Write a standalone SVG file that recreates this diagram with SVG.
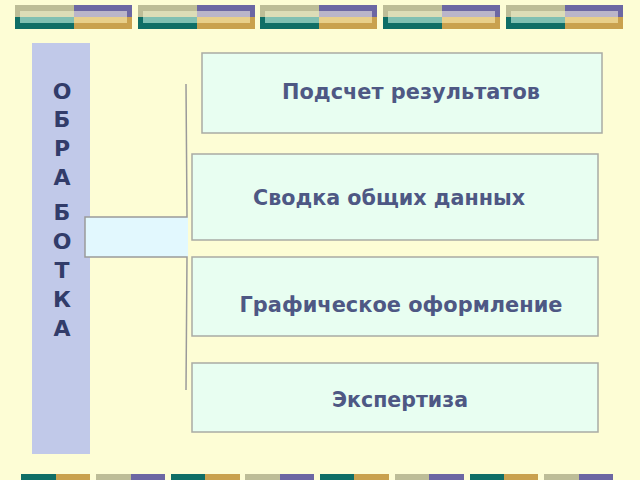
<svg xmlns="http://www.w3.org/2000/svg" width="640" height="480" viewBox="0 0 640 480">
<defs>
<style>
.bg{fill:#FDFDD5}
.ol{fill:#BDBD97}.tl{fill:#0F6E66}.pu{fill:#6C67A3}.go{fill:#C9A14E}
.olI{fill:#DCDDB7}.tlI{fill:#80C0B2}.puI{fill:#BAB5C9}.goI{fill:#E8CF8A}
.box{fill:#E8FEF1;stroke:#A9ABA4;stroke-width:1.5}
.lbl{font-family:"DejaVu Sans","Liberation Sans",sans-serif;font-weight:bold;font-size:22px;fill:#4E5884;text-anchor:middle}
.let{font-family:"DejaVu Sans","Liberation Sans",sans-serif;font-weight:bold;font-size:22px;fill:#323C6A;text-anchor:middle}
.conn{fill:none;stroke:#9A9A9A;stroke-width:1.5}
</style>
<g id="topbar">
<rect class="ol" x="0" y="0" width="59" height="12"/>
<rect class="tl" x="0" y="12" width="59" height="12"/>
<rect class="pu" x="59" y="0" width="58" height="12"/>
<rect class="go" x="59" y="12" width="58" height="12"/>
<rect class="olI" x="5" y="6" width="54" height="6"/>
<rect class="tlI" x="5" y="12" width="54" height="6"/>
<rect class="puI" x="59" y="6" width="53" height="6"/>
<rect class="goI" x="59" y="12" width="53" height="6"/>
</g>
</defs>
<rect class="bg" x="0" y="0" width="640" height="480"/>
<g id="top-decor">
<use href="#topbar" x="15" y="5"/>
<use href="#topbar" x="138" y="5"/>
<use href="#topbar" x="260" y="5"/>
<use href="#topbar" x="383" y="5"/>
<use href="#topbar" x="506" y="5"/>
</g>
<g id="bottom-decor">
<rect class="tl" x="21" y="474" width="35" height="8"/><rect class="go" x="56" y="474" width="34" height="8"/>
<rect class="ol" x="96" y="474" width="35" height="8"/><rect class="pu" x="131" y="474" width="34" height="8"/>
<rect class="tl" x="171" y="474" width="34" height="8"/><rect class="go" x="205" y="474" width="35" height="8"/>
<rect class="ol" x="245" y="474" width="35" height="8"/><rect class="pu" x="280" y="474" width="34" height="8"/>
<rect class="tl" x="320" y="474" width="34" height="8"/><rect class="go" x="354" y="474" width="35" height="8"/>
<rect class="ol" x="395" y="474" width="34" height="8"/><rect class="pu" x="429" y="474" width="35" height="8"/>
<rect class="tl" x="470" y="474" width="34" height="8"/><rect class="go" x="504" y="474" width="34" height="8"/>
<rect class="ol" x="544" y="474" width="35" height="8"/><rect class="pu" x="579" y="474" width="34" height="8"/>
</g>
<g id="obrabotka">
<rect x="32" y="43" width="58" height="411" fill="#C1C9E9"/>
<text class="let" x="62" y="99">О</text>
<text class="let" x="62" y="127">Б</text>
<text class="let" x="62" y="156">Р</text>
<text class="let" x="62" y="185">А</text>
<text class="let" x="62" y="220">Б</text>
<text class="let" x="62" y="249">О</text>
<text class="let" x="62" y="278">Т</text>
<text class="let" x="62" y="307">К</text>
<text class="let" x="62" y="336">А</text>
</g>
<g id="connectors">
<rect x="85" y="217" width="103" height="40" fill="#E2F8FE"/>
<path class="conn" d="M186,84 L187,217 L85,217 L85,257 L187,257 L186,390"/>
</g>
<g id="node1">
<rect class="box" x="202" y="53" width="400" height="80"/>
<text class="lbl" x="411" y="99" textLength="258" lengthAdjust="spacingAndGlyphs">Подсчет результатов</text>
</g>
<g id="node2">
<rect class="box" x="192" y="154" width="406" height="86"/>
<text class="lbl" x="389" y="205" textLength="272" lengthAdjust="spacingAndGlyphs">Сводка общих данных</text>
</g>
<g id="node3">
<rect class="box" x="192" y="257" width="406" height="79"/>
<text class="lbl" x="401" y="312" textLength="323" lengthAdjust="spacingAndGlyphs">Графическое оформление</text>
</g>
<g id="node4">
<rect class="box" x="192" y="363" width="406" height="69"/>
<text class="lbl" x="400" y="407" textLength="136" lengthAdjust="spacingAndGlyphs">Экспертиза</text>
</g>
</svg>
